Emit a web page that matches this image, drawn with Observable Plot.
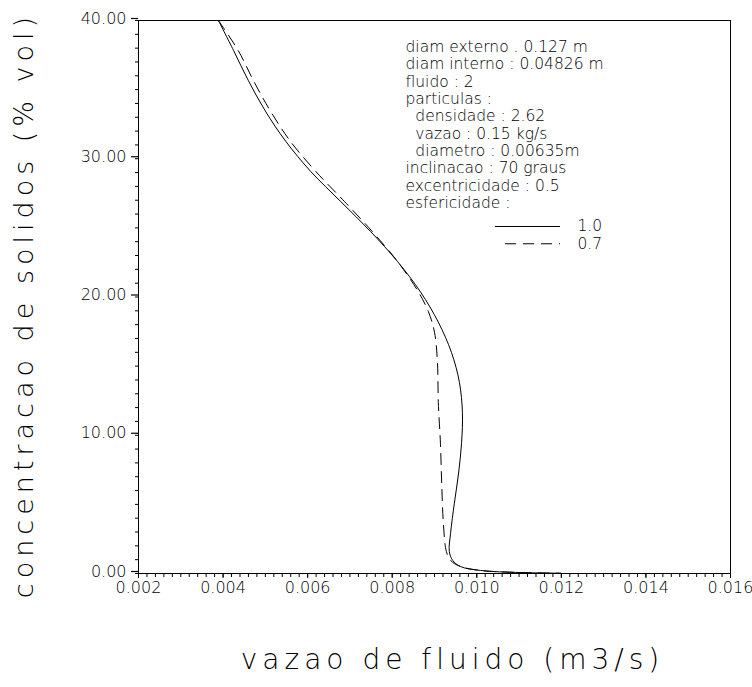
<!DOCTYPE html>
<html>
<head>
<meta charset="utf-8">
<script src="https://cdn.jsdelivr.net/npm/d3@7"></script>
<script src="https://cdn.jsdelivr.net/npm/@observablehq/plot@0.6"></script>
<style>
  html, body { margin: 0; padding: 0; background: #fff; }
  svg { font-family: "DejaVu Sans", sans-serif; font-weight: 200; }
</style>
</head>
<body>
<div id="chart"></div>
<script>
// esfericidade 1.0 (solid)
const solidVazao = [0.00389,0.00425,0.00460,0.00500,0.00548,0.00607,0.00678,0.00749,0.00813,0.00867,0.00909,0.00940,0.00959,0.00966,0.00964,0.00957,0.00947,0.00938,0.00935,0.00943,0.00961,0.01009,0.01103,0.01198];
const solidConc  = [40.0,37.82,35.64,33.45,31.27,29.09,26.91,24.73,22.55,20.36,18.18,16.0,13.82,11.64,9.45,7.27,5.09,2.91,1.6,0.95,0.51,0.22,0.07,0.02];
// esfericidade 0.7 (dashed)
const dashVazao = [0.00389,0.00436,0.00472,0.00512,0.00559,0.00619,0.00687,0.00753,0.00813,0.00862,0.00886,0.00900,0.00907,0.00909,0.00914,0.00917,0.00921,0.00928,0.00938,0.00961,0.01009,0.01103,0.01198];
const dashConc  = [40.0,37.82,35.64,33.45,31.27,29.09,26.91,24.73,22.55,20.36,18.91,17.45,15.27,12.36,9.45,6.55,3.64,1.6,0.95,0.51,0.22,0.07,0.02];

const yTicks = [0,10,20,30,40];
const yMinorTicks = d3.range(0, 40.001, 1);
const xTicks = [0.002,0.004,0.006,0.008,0.010,0.012,0.014,0.016];
const xMinorTicks = d3.range(0, 71).map(i => 0.002 + i*0.0002);

const legendLines = [
  "diam externo . 0.127 m",
  "diam interno : 0.04826 m",
  "fluido : 2",
  "particulas :",
  "\u00a0\u00a0densidade : 2.62",
  "\u00a0\u00a0vazao : 0.15 kg/s",
  "\u00a0\u00a0diametro : 0.00635m",
  "inclinacao : 70 graus",
  "excentricidade : 0.5",
  "esfericidade :"
];
const seriesLabels = ["1.0", "0.7"];
const legendSampleX = [[0.01044, 0.01198], [0.01068, 0.01198]];
const legendSampleY = [25.1, 23.85];

const solid = solidVazao.map((v,i) => ({v, c: solidConc[i]}));
const dashed = dashVazao.map((v,i) => ({v, c: dashConc[i]}));

const textStyle = {fontFamily: "DejaVu Sans", fontWeight: 200, fill: "#000"};

const chart = Plot.plot({
  width: 752,
  height: 687,
  marginLeft: 138,
  marginRight: 22,
  marginTop: 20,
  marginBottom: 114,
  style: {fontFamily: "DejaVu Sans", fontWeight: 200, background: "#fff", color: "#000"},
  x: {domain: [0.002, 0.016], axis: null},
  y: {domain: [0, 40], axis: null},
  marks: [
    Plot.frame({stroke: "#000", strokeWidth: 1}),
    Plot.axisY({ticks: yMinorTicks, tickSize: 3, tickFormat: () => "", label: null, strokeWidth: 1}),
    Plot.axisY({ticks: yTicks, tickSize: 7, tickPadding: 5, dy: -2, tickFormat: d => d.toFixed(2), label: null, fontSize: 16, strokeWidth: 1.2}),
    Plot.axisX({ticks: xMinorTicks, tickSize: 4, tickFormat: () => "", label: null, strokeWidth: 1}),
    Plot.axisX({ticks: xTicks, tickSize: 5, tickPadding: 3, tickFormat: d => d.toFixed(3), label: null, fontSize: 16, strokeWidth: 1}),
    Plot.line(solid, {x: "v", y: "c", stroke: "#000", strokeWidth: 1, curve: "catmull-rom"}),
    Plot.line(dashed, {x: "v", y: "c", stroke: "#000", strokeWidth: 1, strokeDasharray: "11,7", curve: "catmull-rom"}),
    Plot.text([legendLines.join("\n")], {frameAnchor: "top-left", dx: 267, dy: 19, textAnchor: "start", lineAnchor: "top", lineHeight: 1.12, fontSize: 15.5, ...textStyle}),
    Plot.ruleY([0], {y: () => legendSampleY[0], x1: () => legendSampleX[0][0], x2: () => legendSampleX[0][1], stroke: "#000", strokeWidth: 1}),
    Plot.ruleY([0], {y: () => legendSampleY[1], x1: () => legendSampleX[1][0], x2: () => legendSampleX[1][1], stroke: "#000", strokeWidth: 1, strokeDasharray: "11,7"}),
    Plot.text(seriesLabels, {x: () => 0.01238, y: (d,i) => legendSampleY[i], textAnchor: "start", fontSize: 15.5, ...textStyle}),
    Plot.text(["concentracao de solidos (% vol)"], {frameAnchor: "left", dx: -114, dy: 8, rotate: -90, textAnchor: "middle", lineAnchor: "middle", fontSize: 27, ...textStyle}),
    Plot.text(["vazao de fluido (m3/s)"], {frameAnchor: "bottom", dx: 18, dy: 87, textAnchor: "middle", lineAnchor: "middle", fontSize: 28, ...textStyle})
  ]
});
d3.select(chart).selectAll("text")
  .filter(function() { return this.textContent.startsWith("concentracao") || this.textContent.startsWith("vazao de fluido"); })
  .style("letter-spacing", "5px");
document.getElementById("chart").appendChild(chart);
</script>
</body>
</html>
